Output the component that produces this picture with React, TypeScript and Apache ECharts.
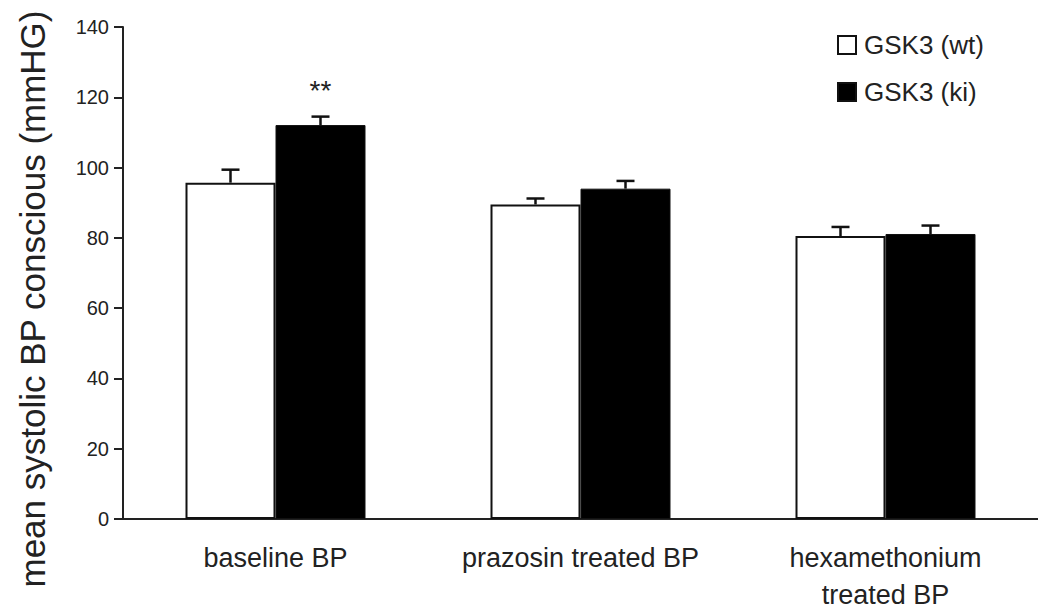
import React, { useEffect, useRef } from "react";
import * as echarts from "echarts";

const categories = ["baseline BP", "prazosin treated BP", "hexamethonium\ntreated BP"];
const wtValues = [95.7, 89.5, 80.5];
const wtErrors = [3.7, 1.7, 2.6];
const kiValues = [112.1, 94.0, 81.1];
const kiErrors = [2.4, 2.2, 2.4];
const significance = ["**", "", ""];
const yTicks = { min: 0, max: 140, interval: 20 };
const yTitle = "mean systolic BP conscious (mmHG)";
const seriesNames = ["GSK3 (wt)", "GSK3 (ki)"];

const FONT = "'Liberation Sans', Arial, Helvetica, sans-serif";
const INK = "#111";
const BAR_W = 90;

function errorSeries(values: number[], errs: number[], offset: number) {
  return {
    type: "custom",
    z: 5,
    silent: true,
    data: values.map((v, i) => [i, v, v + errs[i]]),
    renderItem: (params: any, api: any) => {
      const i = api.value(0);
      const p0 = api.coord([i, api.value(1)]);
      const p1 = api.coord([i, api.value(2)]);
      const x = p0[0] + offset;
      const cap = 9;
      return {
        type: "group",
        children: [
          {
            type: "line",
            shape: { x1: x, y1: p0[1], x2: x, y2: p1[1] },
            style: { stroke: INK, lineWidth: 2.5 },
          },
          {
            type: "line",
            shape: { x1: x - cap, y1: p1[1], x2: x + cap, y2: p1[1] },
            style: { stroke: INK, lineWidth: 2.5 },
          },
        ],
      };
    },
  };
}

export default function App() {
  const ref = useRef<HTMLDivElement>(null);
  useEffect(() => {
    if (!ref.current) return;
    const chart = echarts.init(ref.current, undefined, { renderer: "svg" });
    chart.setOption({
      animation: false,
      backgroundColor: "#fff",
      grid: { left: 123, top: 27, height: 501, width: 926 },
      legend: {
        data: seriesNames,
        orient: "vertical",
        left: 832,
        top: 27,
        itemWidth: 18,
        itemHeight: 18,
        itemGap: 21,
        icon: "rect",
        textStyle: {
          fontFamily: FONT,
          fontSize: 26,
          lineHeight: 26,
          color: "#222",
          padding: [0, 0, 0, 3],
        },
      },
      xAxis: {
        type: "category",
        data: categories,
        axisLine: { show: true, lineStyle: { color: "#222", width: 2 } },
        axisTick: { show: false },
        axisLabel: {
          fontFamily: FONT,
          fontSize: 27,
          lineHeight: 37,
          color: "#222",
          margin: 20,
          interval: 0,
        },
      },
      yAxis: {
        type: "value",
        min: yTicks.min,
        max: yTicks.max,
        interval: yTicks.interval,
        splitLine: { show: false },
        axisLine: { show: true, lineStyle: { color: "#222", width: 2 } },
        axisTick: { show: true, length: 9, lineStyle: { color: "#222", width: 2 } },
        axisLabel: { fontFamily: FONT, fontSize: 20, color: "#222", margin: 14 },
      },
      graphic: [
        {
          type: "text",
          x: 32,
          y: 299,
          rotation: Math.PI / 2,
          style: {
            text: yTitle,
            fontFamily: FONT,
            fontSize: 35,
            fill: "#222",
            textAlign: "center",
            textVerticalAlign: "middle",
          },
        },
      ],
      series: [
        {
          name: seriesNames[0],
          type: "bar",
          barWidth: BAR_W,
          barGap: "0%",
          data: wtValues,
          itemStyle: { color: "#fff", borderColor: INK, borderWidth: 2 },
        },
        {
          name: seriesNames[1],
          type: "bar",
          barWidth: BAR_W,
          barGap: "0%",
          data: kiValues.map((v, i) => ({
            value: v,
            label: significance[i]
              ? {
                  show: true,
                  formatter: significance[i],
                  position: "top",
                  distance: 12 + kiErrors[i] * 3.58,
                  fontFamily: FONT,
                  fontSize: 28,
                  color: "#222",
                }
              : { show: false },
          })),
          itemStyle: { color: "#000", borderColor: INK, borderWidth: 1 },
        },
        errorSeries(wtValues, wtErrors, -BAR_W / 2),
        errorSeries(kiValues, kiErrors, BAR_W / 2),
      ],
    });
    return () => chart.dispose();
  }, []);
  return (
    <div
      ref={ref}
      style={{ position: "absolute", left: 0, top: 0, width: 1038, height: 613 }}
    />
  );
}
